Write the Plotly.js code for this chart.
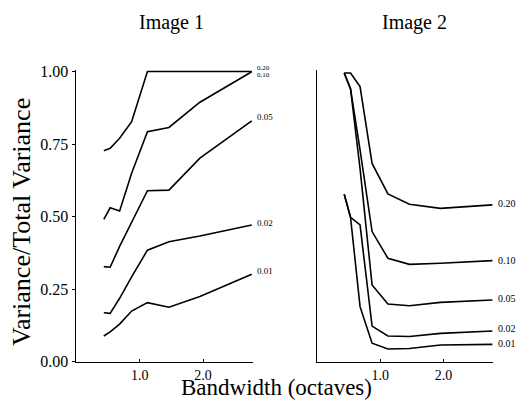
<!DOCTYPE html>
<html>
<head>
<meta charset="utf-8">
<script src="https://cdn.plot.ly/plotly-3.0.1.min.js"></script>
<style>html,body{margin:0;padding:0;background:#fff;}#chart{width:518px;height:401px;}</style>
</head>
<body>
<div id="chart"></div>
<script>
// Bandwidth (octaves) sample positions
const bandwidth = [0.43, 0.53, 0.68, 0.87, 1.12, 1.46, 1.95, 2.77];
const seriesNames = ["0.20", "0.10", "0.05", "0.02", "0.01"];

// Image 1: Variance / Total Variance
const img1_020 = [0.727, 0.735, 0.770, 0.827, 1.000, 1.000, 1.000, 1.000];
const img1_010 = [0.490, 0.530, 0.519, 0.649, 0.792, 0.807, 0.894, 0.999];
const img1_005 = [0.327, 0.325, 0.397, 0.481, 0.589, 0.591, 0.701, 0.830];
const img1_002 = [0.168, 0.166, 0.218, 0.292, 0.384, 0.413, 0.433, 0.471];
const img1_001 = [0.088, 0.102, 0.129, 0.174, 0.203, 0.187, 0.224, 0.301];

// Image 2: Variance / Total Variance
const img2_020 = [0.995, 0.995, 0.948, 0.683, 0.578, 0.542, 0.528, 0.540];
const img2_010 = [0.995, 0.940, 0.730, 0.448, 0.356, 0.335, 0.339, 0.348];
const img2_005 = [0.995, 0.940, 0.665, 0.264, 0.198, 0.192, 0.204, 0.212];
const img2_002 = [0.577, 0.497, 0.471, 0.122, 0.088, 0.086, 0.097, 0.105];
const img2_001 = [0.577, 0.497, 0.189, 0.063, 0.043, 0.045, 0.057, 0.059];

const yTickVals = [0, 0.25, 0.5, 0.75, 1.0];
const yTickText = ["0.00", "0.25", "0.50", "0.75", "1.00"];
const xTickVals = [1.0, 2.0];
const xTickText = ["1.0", "2.0"];

const img1 = [img1_020, img1_010, img1_005, img1_002, img1_001];
const img2 = [img2_020, img2_010, img2_005, img2_002, img2_001];

const serif = "Liberation Serif, Times New Roman, serif";
const line = {color: "#000", width: 1.6};

const traces = [];
img1.forEach((ys, i) => traces.push({x: bandwidth, y: ys, xaxis: "x", yaxis: "y", mode: "lines", line: line, name: seriesNames[i], hoverinfo: "skip"}));
img2.forEach((ys, i) => traces.push({x: bandwidth, y: ys, xaxis: "x2", yaxis: "y2", mode: "lines", line: line, name: seriesNames[i], hoverinfo: "skip"}));

const lastX = bandwidth[bandwidth.length - 1];
const leftShift = [3.5, -3, 4, 2, 3];
const leftSize = [7, 7, 9, 9, 9];
const rightShift = [1, 0, 2, 3, 1];
const annotations = [];
img1.forEach((ys, i) => annotations.push({xref: "x", yref: "y", x: lastX, y: ys[ys.length-1], text: seriesNames[i], showarrow: false, xanchor: "left", yanchor: "middle", xshift: 3, yshift: leftShift[i], font: {family: serif, size: leftSize[i], color: "#000"}}));
img2.forEach((ys, i) => annotations.push({xref: "x2", yref: "y2", x: lastX, y: ys[ys.length-1], text: seriesNames[i], showarrow: false, xanchor: "left", yanchor: "middle", xshift: 4, yshift: rightShift[i], font: {family: serif, size: 10, color: "#000"}}));

annotations.push({xref: "paper", yref: "paper", x: 171/518, y: 1 - 23/401, text: "Image 1", showarrow: false, xanchor: "center", yanchor: "middle", font: {family: serif, size: 20, color: "#000"}});
annotations.push({xref: "paper", yref: "paper", x: 414/518, y: 1 - 23/401, text: "Image 2", showarrow: false, xanchor: "center", yanchor: "middle", font: {family: serif, size: 20, color: "#000"}});
annotations.push({xref: "paper", yref: "paper", x: 276/518, y: 0, text: "Bandwidth (octaves)", showarrow: false, xanchor: "center", yanchor: "bottom", borderpad: 0, font: {family: serif, size: 23, color: "#000"}});
annotations.push({xref: "paper", yref: "paper", x: 21/518, y: 1 - 222/401, text: "Variance/Total Variance", textangle: -90, showarrow: false, xanchor: "center", yanchor: "middle", font: {family: serif, size: 26, color: "#000"}});

// y range slightly above 1 so the flat line at 1.00 is not clipped; 1.00 stays at the same pixel
const yMax = 1.006;
const yDomain = [1 - 361.5/401, 1 - (361.5 - 290*yMax)/401];
const axisCommon = {showgrid: false, zeroline: false, showline: true, linecolor: "#000", linewidth: 1.5, tickcolor: "#000", fixedrange: true};

const layout = {
  width: 518, height: 401,
  margin: {l: 0, r: 0, t: 0, b: 0},
  paper_bgcolor: "#fff", plot_bgcolor: "#fff",
  showlegend: false,
  xaxis: Object.assign({}, axisCommon, {domain: [76/518, 253/518], range: [-0.01, 2.79], tickvals: xTickVals, ticktext: xTickText, ticks: "inside", ticklen: 3, tickfont: {family: serif, size: 14, color: "#000"}, anchor: "y"}),
  yaxis: Object.assign({}, axisCommon, {domain: yDomain, range: [0, yMax], tickvals: yTickVals, ticktext: yTickText, ticks: "outside", ticklen: 3, tickfont: {family: serif, size: 16, color: "#000"}, anchor: "x"}),
  xaxis2: Object.assign({}, axisCommon, {domain: [317/518, 493/518], range: [0, 2.78], tickvals: xTickVals, ticktext: xTickText, ticks: "inside", ticklen: 3, tickfont: {family: serif, size: 14, color: "#000"}, anchor: "y2"}),
  yaxis2: Object.assign({}, axisCommon, {domain: yDomain, range: [0, yMax], showticklabels: false, ticks: "", anchor: "x2"}),
  annotations: annotations
};

Plotly.newPlot("chart", traces, layout, {staticPlot: true, displayModeBar: false});
</script>
</body>
</html>
